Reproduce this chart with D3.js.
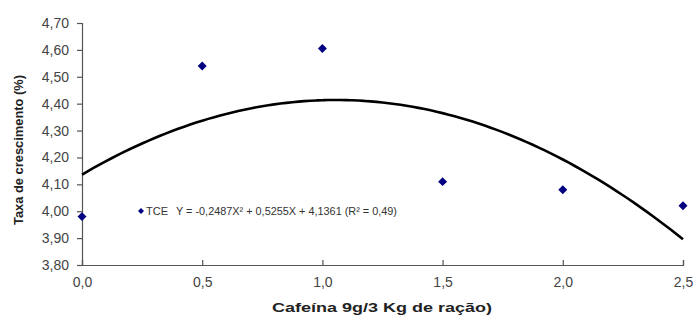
<!DOCTYPE html>
<html>
<head>
<meta charset="utf-8">
<script src="https://cdn.jsdelivr.net/npm/d3@7"></script>
<style>
  body { margin: 0; background: #fff; }
  text { font-family: "Liberation Sans", Arial, sans-serif; }
</style>
</head>
<body>
<div id="chart"></div>
<script>
// observed data (TCE)
const doses = [0.0, 0.5, 1.0, 1.5, 2.0, 2.5];
const tce = [3.98, 4.54, 4.605, 4.11, 4.08, 4.02];

// polynomial trendline coefficients: a*X^2 + b*X + c
const trendCoef = [-0.2487, 0.5255, 4.1361];

const xTicks = [0, 0.5, 1.0, 1.5, 2.0, 2.5];
const yTicks = [3.8, 3.9, 4.0, 4.1, 4.2, 4.3, 4.4, 4.5, 4.6, 4.7];

const legendLabel = 'TCE';
const equationLabel = 'Y = -0,2487X² + 0,5255X + 4,1361 (R² = 0,49)';

const W = 696, H = 325;
const margin = { top: 23, right: 13, bottom: 60, left: 82 };
const width = W - margin.left - margin.right;
const height = H - margin.top - margin.bottom;

const svg = d3.select('#chart')
  .append('svg')
  .attr('width', W)
  .attr('height', H);

const g = svg.append('g')
  .attr('transform', 'translate(' + margin.left + ',' + margin.top + ')');

const x = d3.scaleLinear().domain([0, 2.5]).range([0, width]);
const y = d3.scaleLinear().domain([3.8, 4.7]).range([height, 0]);

const fmt = d => d3.format('.1f')(d).replace('.', ',');
const fmt2 = d => d3.format('.2f')(d).replace('.', ',');

// axes
const yAxis = g.append('g')
  .call(d3.axisLeft(y).tickValues(yTicks).tickFormat(fmt2).tickSize(5).tickPadding(8));
const xAxis = g.append('g')
  .attr('transform', 'translate(0,' + height + ')')
  .call(d3.axisBottom(x).tickValues(xTicks).tickFormat(fmt).tickSize(-5).tickPadding(12));

[xAxis, yAxis].forEach(a => {
  a.select('.domain').attr('stroke', '#555').attr('stroke-width', 1.2);
  a.selectAll('.tick line').attr('stroke', '#555').attr('stroke-width', 1.2);
  a.selectAll('.tick text')
    .attr('fill', '#444')
    .style('font-size', '14px')
    .style('font-family', '"Liberation Sans", Arial, sans-serif');
});
xAxis.selectAll('.tick text').attr('dy', '0.71em');

// trendline
const curve = d3.range(0, 2.5001, 0.025).map(v => ({
  x: v,
  y: trendCoef[0] * v * v + trendCoef[1] * v + trendCoef[2]
}));
const line = d3.line()
  .x(d => x(d.x))
  .y(d => y(d.y))
  .curve(d3.curveMonotoneX);

g.append('path')
  .datum(curve)
  .attr('fill', 'none')
  .attr('stroke', '#000')
  .attr('stroke-width', 2.6)
  .attr('d', line);

// points (square rotated 45deg = Excel diamond)
const diamond = d3.symbol().type(d3.symbolSquare).size(40);
g.selectAll('.pt')
  .data(doses.map((d, i) => ({ x: d, y: tce[i] })))
  .enter()
  .append('path')
  .attr('class', 'pt')
  .attr('transform', d => 'translate(' + x(d.x) + ',' + y(d.y) + ') rotate(45)')
  .attr('d', diamond)
  .attr('fill', '#000080');

// legend with equation
const lg = g.append('g')
  .attr('transform', 'translate(' + (141 - margin.left) + ',' + (211 - margin.top) + ')');
lg.append('path')
  .attr('d', d3.symbol().type(d3.symbolSquare).size(18))
  .attr('transform', 'rotate(45)')
  .attr('fill', '#000080');
lg.append('text')
  .attr('x', 5)
  .attr('y', 4)
  .style('font-size', '11px')
  .attr('fill', '#333')
  .text(legendLabel);
lg.append('text')
  .attr('x', 35)
  .attr('y', 4)
  .attr('textLength', 221)
  .attr('lengthAdjust', 'spacingAndGlyphs')
  .style('font-size', '11px')
  .attr('fill', '#333')
  .text(equationLabel);

// axis titles
svg.append('text')
  .attr('transform', 'translate(23,' + 150 + ') rotate(-90)')
  .attr('text-anchor', 'middle')
  .attr('textLength', 150)
  .attr('lengthAdjust', 'spacingAndGlyphs')
  .style('font-size', '13px')
  .style('font-weight', 'bold')
  .attr('fill', '#222')
  .text('Taxa de crescimento (%)');

svg.append('text')
  .attr('x', 382)
  .attr('y', 312)
  .attr('text-anchor', 'middle')
  .attr('textLength', 220)
  .attr('lengthAdjust', 'spacingAndGlyphs')
  .style('font-size', '13px')
  .style('font-weight', 'bold')
  .attr('fill', '#222')
  .text('Cafeína 9g/3 Kg de ração)');
</script>
</body>
</html>
